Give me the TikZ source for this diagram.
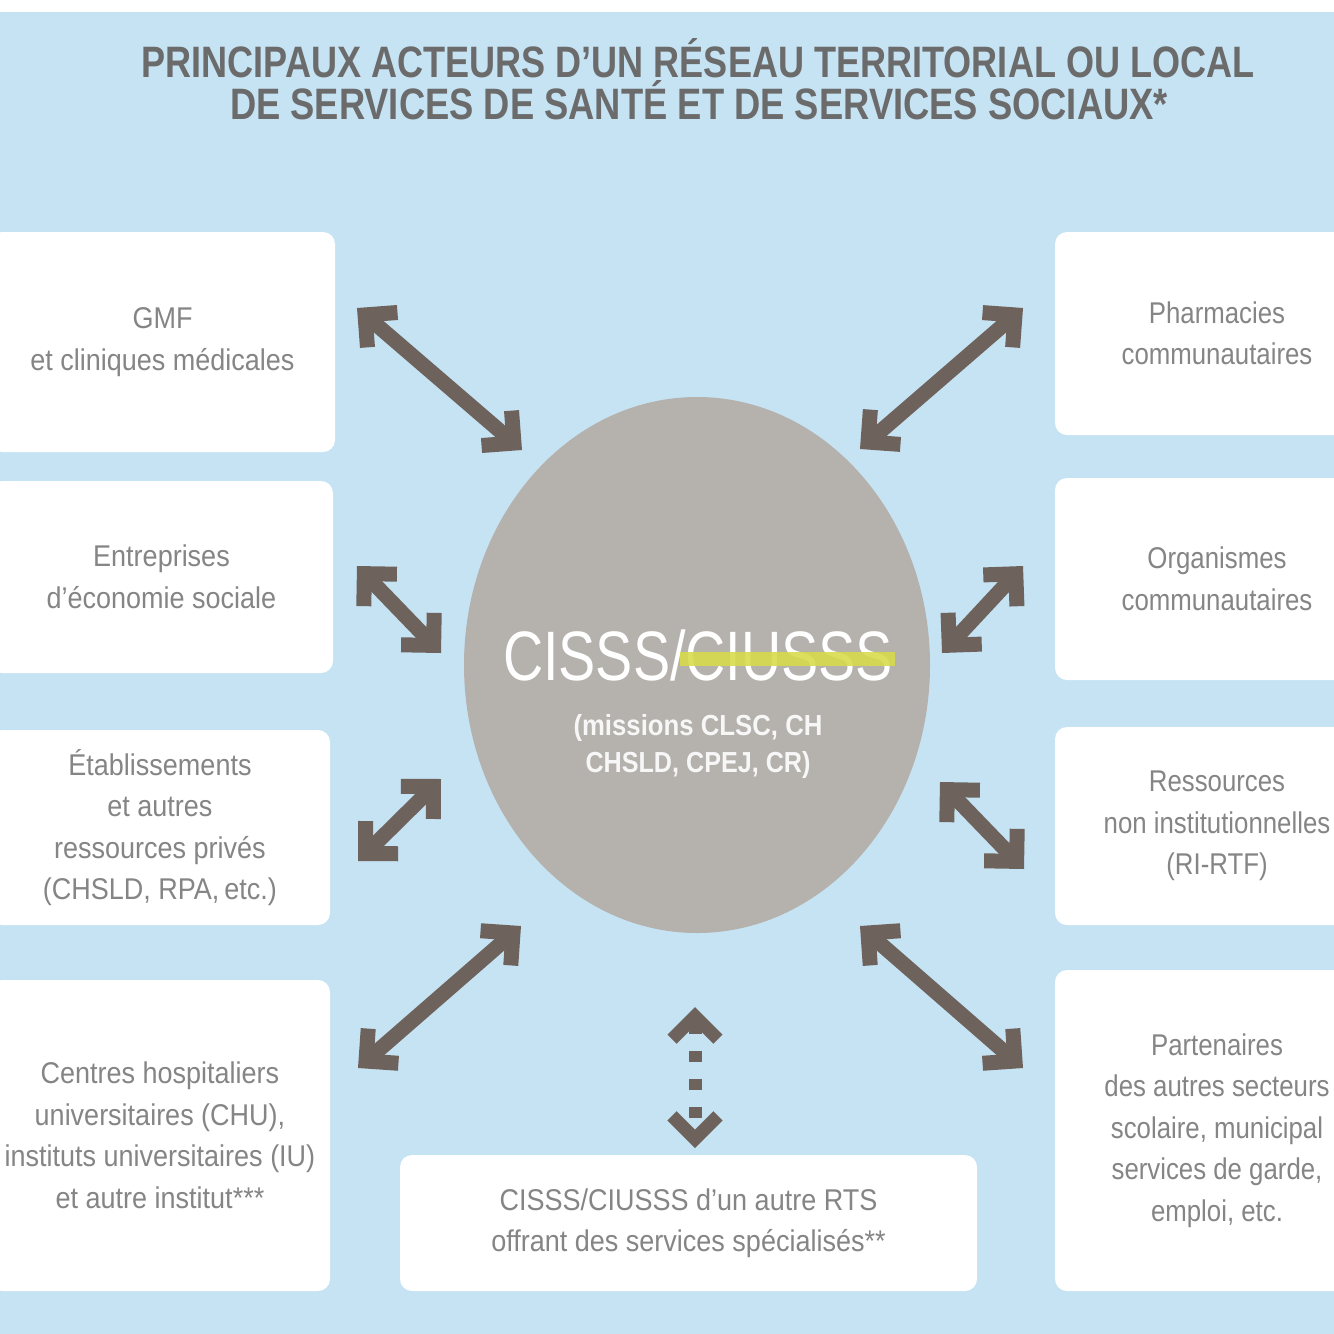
\documentclass[tikz,border=0pt]{standalone}
\usepackage{fontspec}
\setmainfont{Liberation Sans}
\newfontfamily\boxfont[FakeStretch=0.9]{Liberation Sans}
\newfontfamily\boxfontR[FakeStretch=0.86]{Liberation Sans}
\newfontfamily\headfont{Liberation Sans}
\usetikzlibrary{arrows.meta,shapes.geometric}
\definecolor{bgblue}{HTML}{C6E3F4}
\definecolor{arrowc}{HTML}{6E635C}
\definecolor{ellc}{HTML}{B5B1AD}
\definecolor{titlec}{HTML}{6B6B6B}
\definecolor{boxtxt}{HTML}{858585}
\definecolor{yell}{HTML}{D8DB48}
\begin{document}
\begin{tikzpicture}[x=1pt,y=-1pt,
  box/.style={fill=white, rounded corners=12pt, inner sep=0pt, align=center,
    text=boxtxt, font=\boxfont\fontsize{30}{41.5}\selectfont},
  rbox/.style={box, font=\boxfontR\fontsize{30}{41.5}\selectfont},
  headtxt/.style={anchor=base, inner sep=0pt},
  barb/.tip={Straight Barb[length=23pt,width=46pt,sharp]},
  biarrow/.style={draw=arrowc, line width=15pt, barb-barb},
  dotarrow/.style={draw=arrowc, line width=13pt, barb-barb, dash pattern=on 11pt off 17pt, dash phase=0pt}
]
\useasboundingbox (0,0) rectangle (1334,1334);
\clip (0,0) rectangle (1334,1334);
\fill[white] (0,0) rectangle (1334,12);
\fill[bgblue] (0,12) rectangle (1334,1334);

% title
\node[headtxt, text=titlec, font=\headfont\bfseries\fontsize{44}{44}\selectfont] (title1) at (698,77)
  {\resizebox{1113pt}{\height}{PRINCIPAUX ACTEURS D’UN RÉSEAU TERRITORIAL OU LOCAL}};
\node[headtxt, text=titlec, font=\headfont\bfseries\fontsize{44}{44}\selectfont] (title2) at (699,119)
  {\resizebox{938pt}{\height}{DE SERVICES DE SANTÉ ET DE SERVICES SOCIAUX*}};

% left boxes
\node[box, minimum width=345pt, minimum height=220pt] (gmf) at (162.5,342) {GMF\\et cliniques médicales};
\node[box, minimum width=343pt, minimum height=192pt] (ent) at (161.5,577) {Entreprises\\d’économie sociale};
\node[box, minimum width=340pt, minimum height=195pt] (etab) at (160,827.5) {Établissements\\et autres\\ressources privés\\(CHSLD, RPA,\,etc.)};
\node[box, minimum width=340pt, minimum height=311pt] (chu) at (160,1135.5) {Centres hospitaliers\\universitaires (CHU),\\instituts universitaires (IU)\\et autre institut***};

% right boxes
\node[rbox, minimum width=324pt, minimum height=203pt] (pharm) at (1217,333.5) {Pharmacies\\communautaires};
\node[rbox, minimum width=324pt, minimum height=202pt] (org) at (1217,579) {Organismes\\communautaires};
\node[rbox, minimum width=324pt, minimum height=198pt] (ress) at (1217,826) {Ressources\\non institutionnelles\\(RI-RTF)};
\node[rbox, minimum width=324pt, minimum height=321pt] (part) at (1217,1130.5) {Partenaires\\des autres secteurs\\scolaire, municipal\\services de garde,\\emploi, etc.};

% bottom box
\node[box, minimum width=577pt, minimum height=136pt] (autre) at (688.5,1223) {CISSS/CIUSSS d’un autre RTS\\offrant des services spécialisés**};

% centre
\node[ellipse, fill=ellc, minimum width=466pt, minimum height=536pt, inner sep=0pt] (cisss) at (697,665) {};
\node[headtxt, text=white, font=\headfont\fontsize{70}{70}\selectfont] (cisssT) at (698,680)
  {\resizebox{390pt}{\height}{CISSS/CIUSSS}};
\fill[yell, opacity=0.88] (680,652) rectangle (895,666);
\node[headtxt, text=white!94!gray, font=\headfont\bfseries\fontsize{29}{29}\selectfont] (sub1) at (698,735)
  {\resizebox{249pt}{\height}{(missions CLSC, CH}};
\node[headtxt, text=white!94!gray, font=\headfont\bfseries\fontsize{29}{29}\selectfont] (sub2) at (698,772)
  {\resizebox{225pt}{\height}{CHSLD, CPEJ, CR)}};

% arrow ends
\coordinate (gmfA) at (357,308);   \coordinate (gmfB) at (522,450);
\coordinate (phA) at (1023,308);   \coordinate (phB) at (860,449);
\coordinate (entA) at (357,566);   \coordinate (entB) at (441,653);
\coordinate (orgA) at (1023,566);  \coordinate (orgB) at (942,653);
\coordinate (etA) at (358,861);    \coordinate (etB) at (441,779);
\coordinate (reA) at (940,782);    \coordinate (reB) at (1024,869);
\coordinate (chA) at (358,1068);   \coordinate (chB) at (521,926);
\coordinate (paA) at (1023,1068);  \coordinate (paB) at (860,926);
\coordinate (dtA) at (695,1007);   \coordinate (dtB) at (695,1148);

\draw[biarrow] (gmfA) -- (gmfB);
\draw[biarrow] (phA) -- (phB);
\draw[biarrow] (entA) -- (entB);
\draw[biarrow] (orgA) -- (orgB);
\draw[biarrow] (etA) -- (etB);
\draw[biarrow] (reA) -- (reB);
\draw[biarrow] (chA) -- (chB);
\draw[biarrow] (paA) -- (paB);
\draw[dotarrow] (dtA) -- (dtB);
\end{tikzpicture}
\end{document}
